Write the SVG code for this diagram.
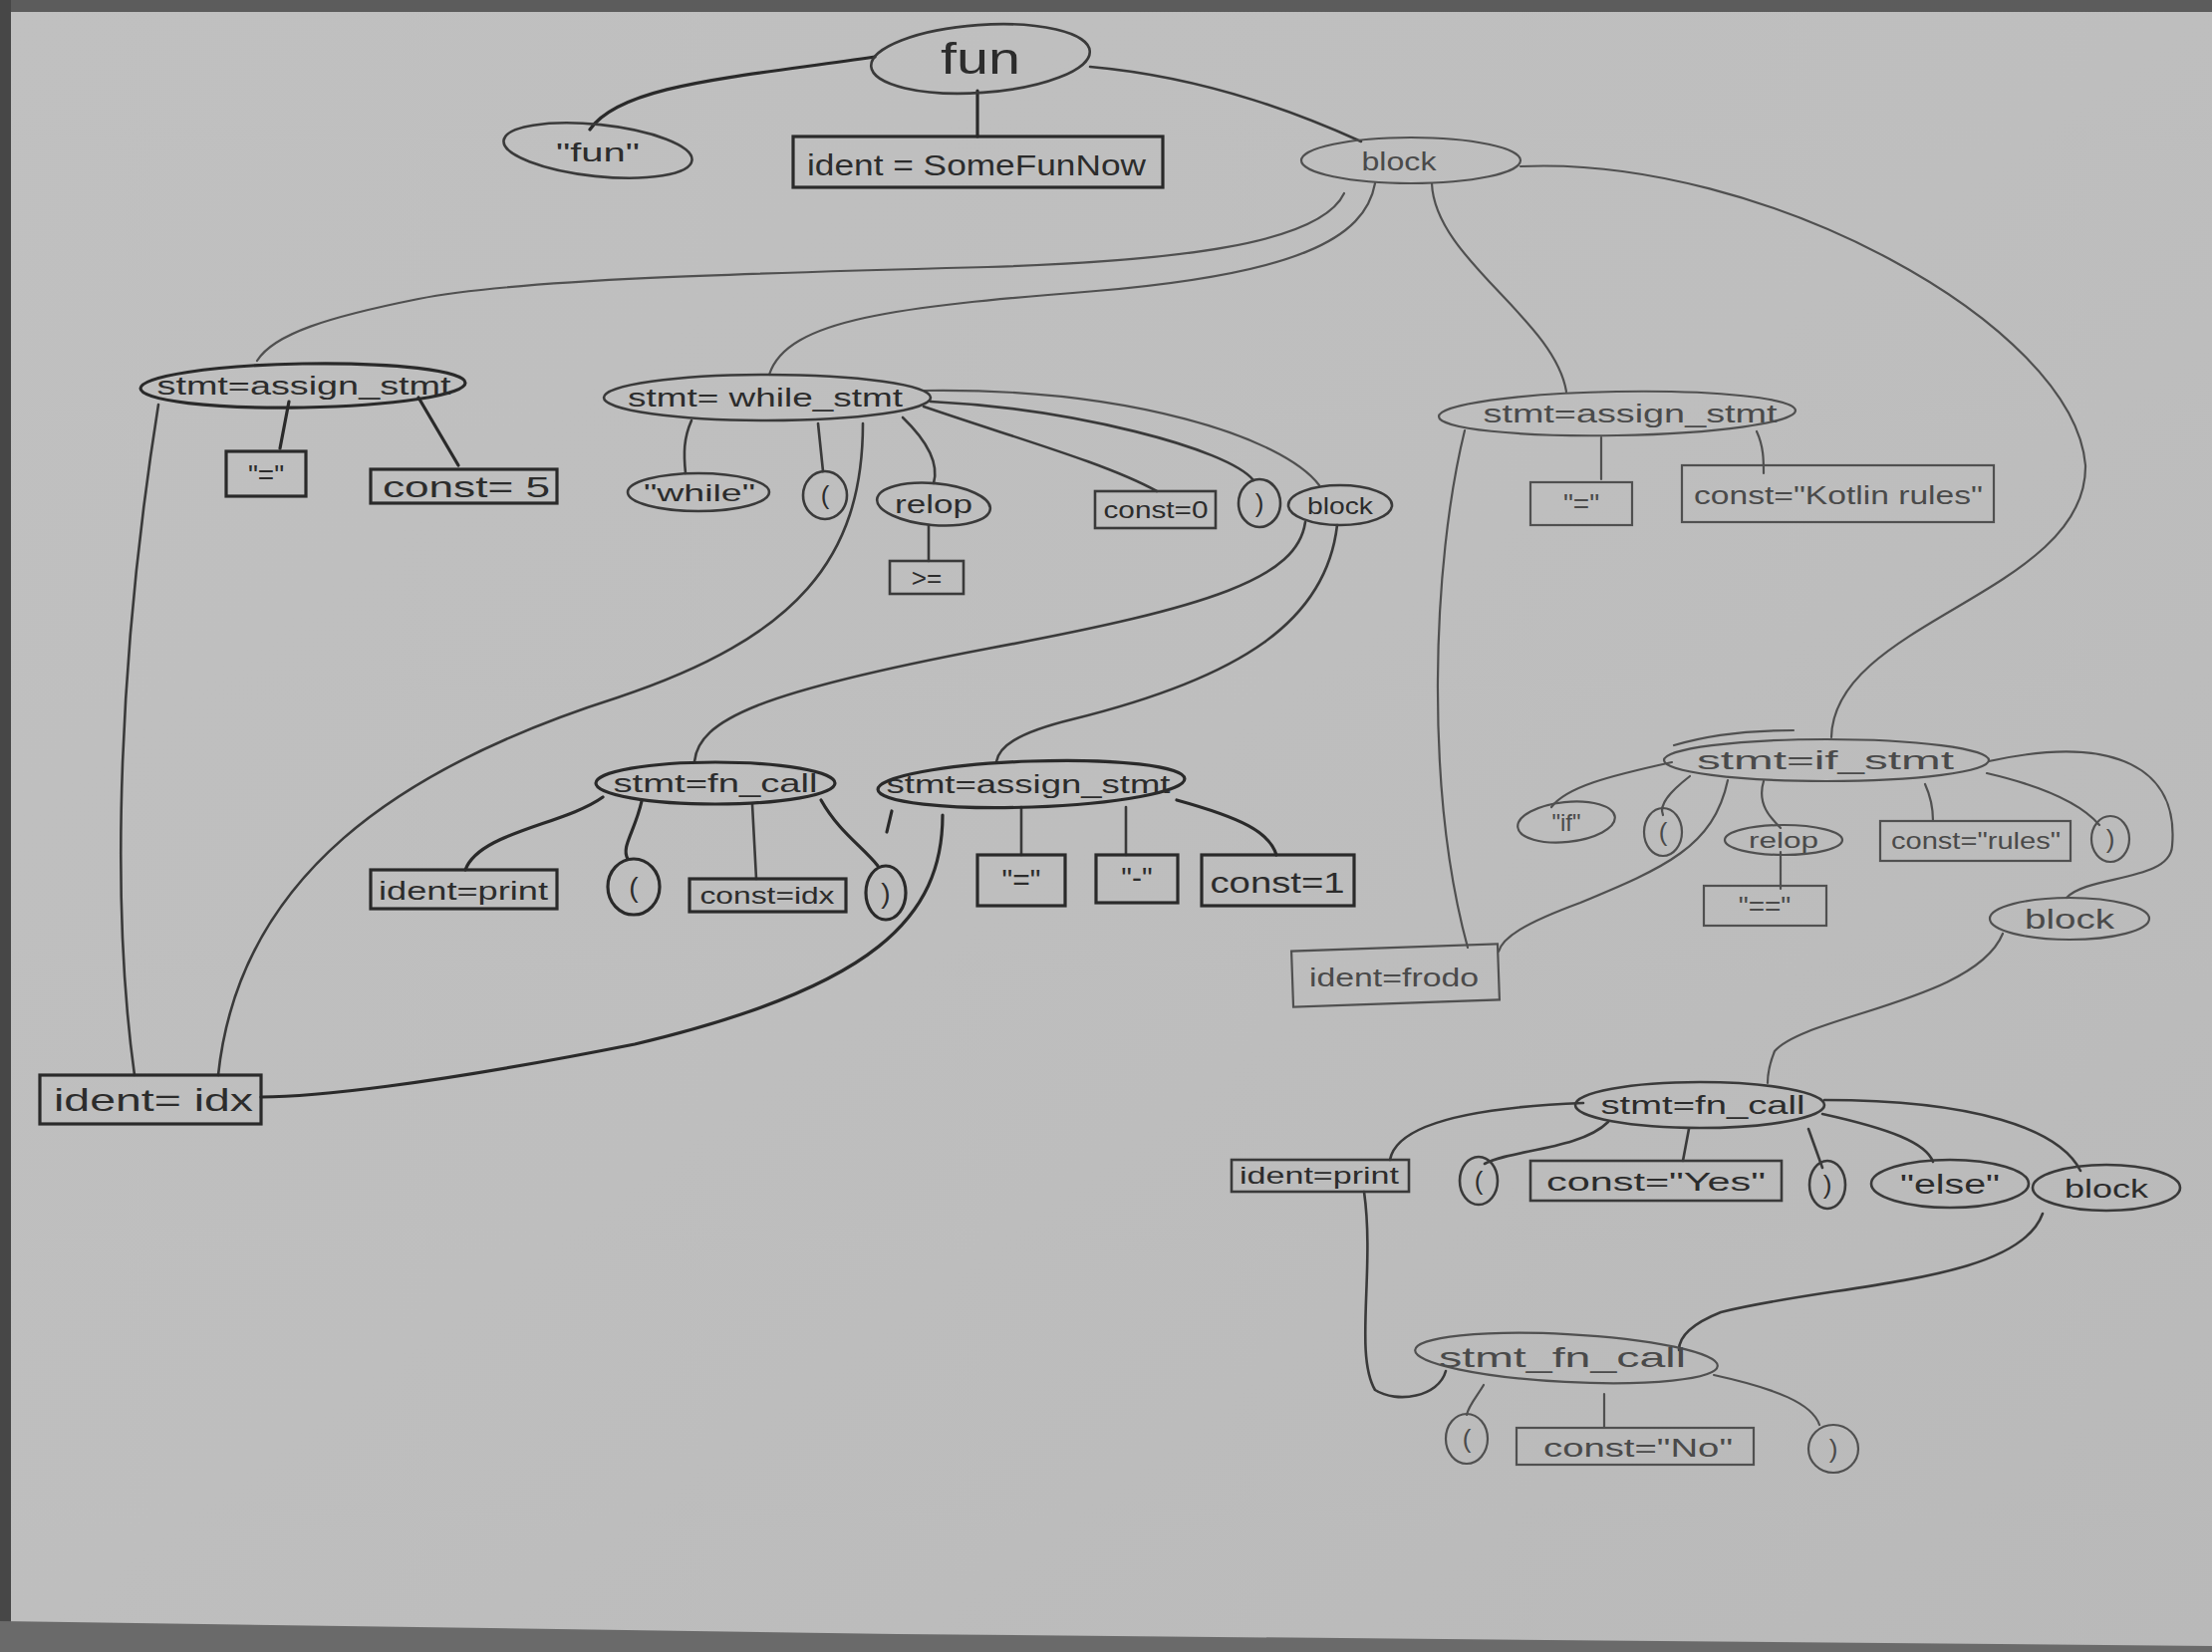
<svg xmlns="http://www.w3.org/2000/svg" width="2220" height="1658" viewBox="0 0 2220 1658">
<defs>
<linearGradient id="paper" x1="0" y1="0" x2="1" y2="1">
<stop offset="0" stop-color="#c0c0c0"/>
<stop offset="0.5" stop-color="#bebebe"/>
<stop offset="1" stop-color="#b9b9b9"/>
</linearGradient>
<style>
.d{fill:none;stroke:#2a2a2a;stroke-width:3.2;stroke-linecap:round}
.m{fill:none;stroke:#3a3a3a;stroke-width:2.6;stroke-linecap:round}
.l{fill:none;stroke:#505050;stroke-width:2.2;stroke-linecap:round}
.t{font-family:"Liberation Sans","DejaVu Sans",sans-serif;fill:#2c2c2c;text-anchor:middle}
.tl{font-family:"Liberation Sans","DejaVu Sans",sans-serif;fill:#4a4a4a;text-anchor:middle}
</style>
</defs>
<rect x="0" y="0" width="2220" height="1658" fill="url(#paper)"/>
<rect x="0" y="0" width="2220" height="12" fill="#5c5c5c"/>
<rect x="0" y="0" width="11" height="1658" fill="#474747"/>
<path d="M0,1627 L900,1640 L2220,1652 L2220,1658 L0,1658 Z" fill="#6a6a6a"/>

<g id="connectors">
<path class="d" d="M878,57 C736,78 623,85 592,130"/>
<path class="d" d="M981,91 L981,137"/>
<path class="m" d="M1094,67 C1218,78 1317,120 1366,142"/>
<path class="l" d="M1349,194 C1325,245 1180,262 991,268 C760,274 520,280 420,300 C330,318 275,335 258,362"/>
<path class="l" d="M1380,184 C1370,240 1300,275 1100,292 C900,308 790,320 772,376"/>
<path class="l" d="M1437,184 C1440,260 1560,320 1572,393"/>
<path class="l" d="M1526,167 C1770,156 2081,326 2093,467 C2095,595 1840,623 1838,740"/>
<path class="d" d="M290,403 L281,450"/>
<path class="d" d="M420,399 L460,467"/>
<path class="m" d="M159,406 C120,650 110,900 135,1079"/>
<path class="m" d="M866,425 C866,560 800,640 620,700 C400,770 240,880 219,1079"/>
<path class="m" d="M694,422 C686,440 686,455 688,475"/>
<path class="m" d="M821,425 L826,473"/>
<path class="m" d="M906,419 C934,446 942,467 937,485"/>
<path class="m" d="M927,408 C1020,440 1110,465 1161,493"/>
<path class="m" d="M934,403 C1076,410 1232,450 1258,482"/>
<path class="l" d="M927,392 C1133,389 1288,439 1324,487"/>
<path class="m" d="M932,527 L932,563"/>
<path class="m" d="M1310,524 C1302,580 1218,609 991,651 C765,694 700,722 697,765"/>
<path class="m" d="M1342,527 C1331,623 1246,680 1076,722 C1019,736 1002,750 1000,765"/>
<path class="d" d="M605,800 C566,828 481,835 467,873"/>
<path class="d" d="M644,804 C637,835 623,850 630,862"/>
<path class="m" d="M755,807 L759,882"/>
<path class="d" d="M824,803 C842,835 866,850 881,869"/>
<path class="m" d="M1025,810 L1025,858"/>
<path class="m" d="M1130,810 L1130,858"/>
<path class="d" d="M1181,803 C1246,821 1274,835 1281,858"/>
<path class="d" d="M946,818 C946,920 878,991 637,1048 C425,1090 311,1101 262,1101"/>
<path class="d" d="M895,814 L890,835"/>
<path class="l" d="M1607,439 L1607,481"/>
<path class="l" d="M1763,433 C1770,448 1770,462 1770,475"/>
<path class="l" d="M1470,432 C1437,566 1430,793 1473,951"/>
<path class="l" d="M1678,765 C1614,779 1572,790 1557,810"/>
<path class="l" d="M1696,779 C1678,793 1664,807 1669,818"/>
<path class="l" d="M1734,783 C1720,850 1670,871 1586,906 C1529,927 1508,941 1504,955"/>
<path class="l" d="M1770,784 C1763,807 1777,821 1787,831"/>
<path class="l" d="M1787,855 L1787,892"/>
<path class="l" d="M1932,787 C1938,800 1940,812 1940,824"/>
<path class="l" d="M1994,776 C2067,793 2095,814 2107,828"/>
<path class="l" d="M1996,764 C2124,736 2187,772 2180,849 C2178,885 2095,878 2074,901"/>
<path class="l" d="M1680,748 C1720,736 1760,733 1800,733"/>
<path class="l" d="M2010,937 C1982,1005 1812,1019 1781,1055 C1777,1065 1774,1076 1774,1087"/>
<path class="m" d="M1589,1107 C1487,1111 1402,1126 1395,1164"/>
<path class="m" d="M1614,1126 C1586,1154 1515,1154 1490,1168"/>
<path class="m" d="M1695,1133 L1689,1165"/>
<path class="m" d="M1815,1133 L1829,1172"/>
<path class="m" d="M1829,1118 C1897,1133 1933,1147 1940,1166"/>
<path class="m" d="M1831,1104 C1982,1104 2067,1133 2088,1175"/>
<path class="m" d="M1369,1196 C1380,1274 1359,1359 1380,1395 C1402,1409 1444,1402 1451,1376"/>
<path class="m" d="M2050,1218 C2025,1288 1841,1288 1727,1317 C1692,1331 1685,1345 1685,1355"/>
<path class="l" d="M1489,1390 C1482,1402 1474,1410 1472,1420"/>
<path class="l" d="M1610,1399 L1610,1433"/>
<path class="l" d="M1720,1380 C1784,1394 1819,1409 1826,1430"/>
</g>

<g id="n-fun"><ellipse class="m" cx="984" cy="59" rx="110" ry="34" transform="rotate(-4 984 59)"/><text class="t" x="984" y="74" font-size="44" textLength="80" lengthAdjust="spacingAndGlyphs">fun</text></g>
<g id="n-fun-kw"><ellipse class="m" cx="600" cy="151" rx="95" ry="26" transform="rotate(6 600 151)"/><text class="t" x="600" y="162" font-size="26" textLength="84" lengthAdjust="spacingAndGlyphs">"fun"</text></g>
<g id="n-ident-somefunnow"><rect class="d" x="796" y="137" width="371" height="51"/><text class="t" x="980" y="176" font-size="30" textLength="340" lengthAdjust="spacingAndGlyphs">ident = SomeFunNow</text></g>
<g id="n-block1"><ellipse class="l" cx="1416" cy="161" rx="110" ry="23"/><text class="tl" x="1404" y="171" font-size="26" textLength="75" lengthAdjust="spacingAndGlyphs">block</text></g>

<g id="n-assign1"><ellipse class="d" cx="304" cy="387" rx="163" ry="22" transform="rotate(-1 304 387)"/><text class="t" x="305" y="396" font-size="26" textLength="295" lengthAdjust="spacingAndGlyphs">stmt=assign_stmt</text></g>
<g id="n-eq1"><rect class="d" x="227" y="453" width="80" height="45"/><text class="t" x="267" y="486" font-size="28">"="</text></g>
<g id="n-const5"><rect class="d" x="372" y="471" width="187" height="34"/><text class="t" x="468" y="499" font-size="30" textLength="168" lengthAdjust="spacingAndGlyphs">const= 5</text></g>
<g id="n-idx"><rect class="d" x="40" y="1079" width="222" height="49"/><text class="t" x="154" y="1115" font-size="32" textLength="200" lengthAdjust="spacingAndGlyphs">ident= idx</text></g>

<g id="n-while"><ellipse class="m" cx="770" cy="399" rx="164" ry="23"/><text class="t" x="768" y="408" font-size="26" textLength="276" lengthAdjust="spacingAndGlyphs">stmt= while_stmt</text></g>
<g id="n-while-kw"><ellipse class="m" cx="701" cy="494" rx="71" ry="19"/><text class="t" x="702" y="503" font-size="24" textLength="112" lengthAdjust="spacingAndGlyphs">"while"</text></g>
<g id="n-lp1"><ellipse class="m" cx="828" cy="497" rx="22" ry="24"/><text class="t" x="828" y="506" font-size="26">(</text></g>
<g id="n-relop1"><ellipse class="m" cx="937" cy="506" rx="57" ry="21" transform="rotate(5 937 506)"/><text class="t" x="937" y="515" font-size="26" textLength="78" lengthAdjust="spacingAndGlyphs">relop</text></g>
<g id="n-ge"><rect class="m" x="893" y="563" width="74" height="33"/><text class="t" x="930" y="589" font-size="26">&gt;=</text></g>
<g id="n-const0"><rect class="m" x="1099" y="493" width="121" height="37"/><text class="t" x="1160" y="520" font-size="24" textLength="105" lengthAdjust="spacingAndGlyphs">const=0</text></g>
<g id="n-rp1"><ellipse class="m" cx="1264" cy="505" rx="21" ry="24"/><text class="t" x="1264" y="514" font-size="26">)</text></g>
<g id="n-block2"><ellipse class="m" cx="1345" cy="507" rx="52" ry="20"/><text class="t" x="1345" y="516" font-size="24" textLength="66" lengthAdjust="spacingAndGlyphs">block</text></g>

<g id="n-fncall1"><ellipse class="d" cx="718" cy="786" rx="120" ry="21"/><text class="t" x="718" y="795" font-size="26" textLength="205" lengthAdjust="spacingAndGlyphs">stmt=fn_call</text></g>
<g id="n-print1"><rect class="d" x="372" y="873" width="187" height="39"/><text class="t" x="465" y="903" font-size="26" textLength="170" lengthAdjust="spacingAndGlyphs">ident=print</text></g>
<g id="n-lp2"><ellipse class="d" cx="636" cy="890" rx="26" ry="28"/><text class="t" x="636" y="900" font-size="28">(</text></g>
<g id="n-constidx"><rect class="d" x="692" y="882" width="157" height="33"/><text class="t" x="770" y="907" font-size="24" textLength="135" lengthAdjust="spacingAndGlyphs">const=idx</text></g>
<g id="n-rp2"><ellipse class="d" cx="889" cy="896" rx="20" ry="27"/><text class="t" x="889" y="906" font-size="28">)</text></g>

<g id="n-assign2"><ellipse class="d" cx="1035" cy="787" rx="154" ry="23" transform="rotate(-2 1035 787)"/><text class="t" x="1032" y="796" font-size="26" textLength="285" lengthAdjust="spacingAndGlyphs">stmt=assign_stmt</text></g>
<g id="n-eq2"><rect class="d" x="981" y="858" width="88" height="51"/><text class="t" x="1025" y="893" font-size="30">"="</text></g>
<g id="n-minus"><rect class="d" x="1100" y="858" width="82" height="48"/><text class="t" x="1141" y="891" font-size="30">"-"</text></g>
<g id="n-const1"><rect class="d" x="1206" y="858" width="153" height="51"/><text class="t" x="1282" y="896" font-size="30" textLength="135" lengthAdjust="spacingAndGlyphs">const=1</text></g>

<g id="n-assign3"><ellipse class="l" cx="1623" cy="415" rx="179" ry="22" transform="rotate(-1 1623 415)"/><text class="tl" x="1636" y="424" font-size="26" textLength="295" lengthAdjust="spacingAndGlyphs">stmt=assign_stmt</text></g>
<g id="n-eq3"><rect class="l" x="1536" y="484" width="102" height="43"/><text class="tl" x="1587" y="515" font-size="28">"="</text></g>
<g id="n-constk"><rect class="l" x="1688" y="467" width="313" height="57"/><text class="tl" x="1845" y="506" font-size="26" textLength="290" lengthAdjust="spacingAndGlyphs">const="Kotlin rules"</text></g>
<g id="n-frodo"><rect class="l" x="1297" y="951" width="207" height="56" transform="rotate(-2 1400 979)"/><text class="tl" x="1399" y="990" font-size="26" textLength="170" lengthAdjust="spacingAndGlyphs">ident=frodo</text></g>

<g id="n-if"><ellipse class="l" cx="1833" cy="763" rx="163" ry="21"/><text class="tl" x="1832" y="772" font-size="26" textLength="258" lengthAdjust="spacingAndGlyphs">stmt=if_stmt</text></g>
<g id="n-if-kw"><ellipse class="l" cx="1572" cy="825" rx="49" ry="20" transform="rotate(-6 1572 825)"/><text class="tl" x="1572" y="834" font-size="24">"if"</text></g>
<g id="n-lp3"><ellipse class="l" cx="1669" cy="835" rx="19" ry="24"/><text class="tl" x="1669" y="844" font-size="26">(</text></g>
<g id="n-relop2"><ellipse class="l" cx="1790" cy="843" rx="59" ry="15"/><text class="tl" x="1790" y="851" font-size="22" textLength="70" lengthAdjust="spacingAndGlyphs">relop</text></g>
<g id="n-eqeq"><rect class="l" x="1710" y="889" width="123" height="40"/><text class="tl" x="1771" y="919" font-size="28">"=="</text></g>
<g id="n-construles"><rect class="l" x="1887" y="824" width="191" height="40"/><text class="tl" x="1983" y="852" font-size="24" textLength="170" lengthAdjust="spacingAndGlyphs">const="rules"</text></g>
<g id="n-rp3"><ellipse class="l" cx="2118" cy="842" rx="19" ry="23"/><text class="tl" x="2118" y="851" font-size="26">)</text></g>
<g id="n-block3"><ellipse class="l" cx="2077" cy="922" rx="80" ry="21"/><text class="tl" x="2077" y="932" font-size="28" textLength="90" lengthAdjust="spacingAndGlyphs">block</text></g>

<g id="n-fncall2"><ellipse class="m" cx="1706" cy="1109" rx="125" ry="23"/><text class="t" x="1709" y="1118" font-size="26" textLength="205" lengthAdjust="spacingAndGlyphs">stmt=fn_call</text></g>
<g id="n-print2"><rect class="m" x="1236" y="1164" width="178" height="32"/><text class="t" x="1324" y="1188" font-size="24" textLength="160" lengthAdjust="spacingAndGlyphs">ident=print</text></g>
<g id="n-lp4"><ellipse class="m" cx="1484" cy="1185" rx="19" ry="24"/><text class="t" x="1484" y="1194" font-size="26">(</text></g>
<g id="n-constyes"><rect class="m" x="1536" y="1165" width="252" height="40"/><text class="t" x="1662" y="1195" font-size="26" textLength="220" lengthAdjust="spacingAndGlyphs">const="Yes"</text></g>
<g id="n-rp4"><ellipse class="m" cx="1834" cy="1189" rx="18" ry="24"/><text class="t" x="1834" y="1198" font-size="26">)</text></g>
<g id="n-else"><ellipse class="m" cx="1957" cy="1188" rx="79" ry="24"/><text class="t" x="1957" y="1198" font-size="28" textLength="100" lengthAdjust="spacingAndGlyphs">"else"</text></g>
<g id="n-block4"><ellipse class="m" cx="2114" cy="1192" rx="74" ry="23"/><text class="t" x="2114" y="1202" font-size="26" textLength="84" lengthAdjust="spacingAndGlyphs">block</text></g>

<g id="n-fncall3"><ellipse class="l" cx="1572" cy="1363" rx="152" ry="24" transform="rotate(3 1572 1363)"/><text class="tl" x="1568" y="1372" font-size="28" textLength="248" lengthAdjust="spacingAndGlyphs">stmt_fn_call</text></g>
<g id="n-lp5"><ellipse class="l" cx="1472" cy="1444" rx="21" ry="25"/><text class="tl" x="1472" y="1453" font-size="26">(</text></g>
<g id="n-constno"><rect class="l" x="1522" y="1433" width="238" height="37"/><text class="tl" x="1644" y="1462" font-size="26" textLength="190" lengthAdjust="spacingAndGlyphs">const="No"</text></g>
<g id="n-rp5"><ellipse class="l" cx="1840" cy="1454" rx="25" ry="24"/><text class="tl" x="1840" y="1463" font-size="26">)</text></g>
</svg>
